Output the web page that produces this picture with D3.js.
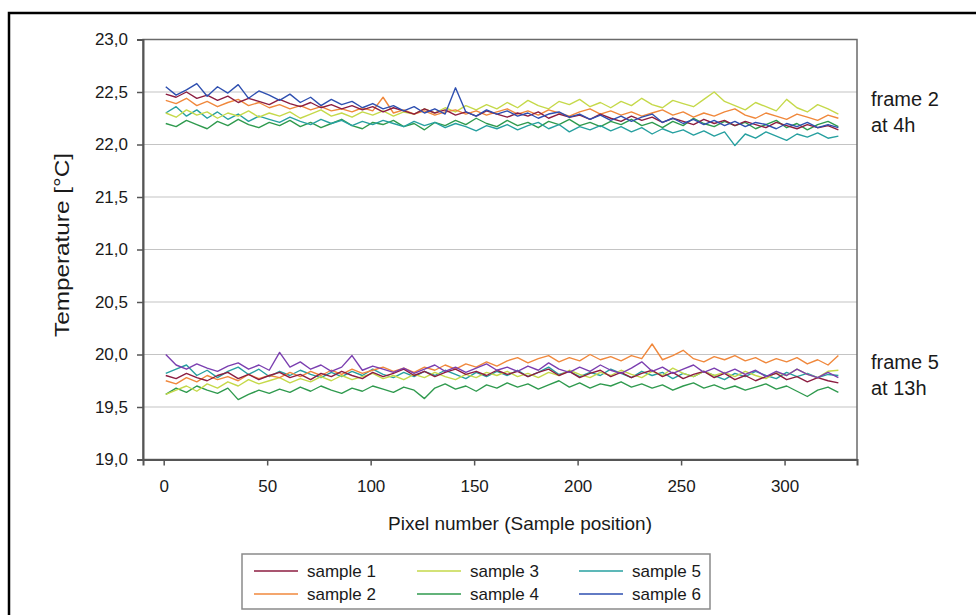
<!DOCTYPE html>
<html>
<head>
<meta charset="utf-8">
<script src="https://cdn.jsdelivr.net/npm/d3@7"></script>
<style>
  body { margin: 0; background: #fff; }
  text { font-family: "Liberation Sans", Arial, sans-serif; fill: #1a1a1a; }
</style>
</head>
<body>
<div id="chart"></div>
<script>
// pixel positions of the readings (every 5th pixel)
const pixels = d3.range(1, 327, 5);

const sampleNames = ['sample 1', 'sample 2', 'sample 3', 'sample 4', 'sample 5', 'sample 6'];
const sampleColors = ['#8c1d40', '#f0883c', '#c5d94a', '#2f9a4e', '#27a0a0', '#2e4fb0'];
const frame5Colors = ['#8c1d40', '#f0883c', '#c5d94a', '#2f9a4e', '#27a0a0', '#7b3fb0'];

const yTicks = [19.0, 19.5, 20.0, 20.5, 21.0, 21.5, 22.0, 22.5, 23.0];
const xTicks = [0, 50, 100, 150, 200, 250, 300];

// frame 2 at 4h
const f2s1 = [
  22.48, 22.45, 22.50, 22.44, 22.47, 22.42, 22.46, 22.40, 22.44, 22.41, 22.38,
  22.43, 22.39, 22.36, 22.40, 22.35, 22.38, 22.34, 22.37, 22.33, 22.36, 22.31,
  22.35, 22.32, 22.29, 22.34, 22.30, 22.33, 22.28, 22.31, 22.27, 22.32, 22.29,
  22.26, 22.30, 22.27, 22.31, 22.25, 22.29, 22.26, 22.28, 22.24, 22.29, 22.25,
  22.22, 22.27, 22.23, 22.26, 22.21, 22.25, 22.22, 22.19, 22.24, 22.20, 22.23,
  22.18, 22.22, 22.19, 22.16, 22.21, 22.18, 22.15, 22.19, 22.16, 22.18, 22.14
];
const f2s2 = [
  22.42, 22.39, 22.44, 22.37, 22.41, 22.36, 22.40, 22.43, 22.37, 22.40, 22.35,
  22.38, 22.34, 22.37, 22.33, 22.36, 22.32, 22.34, 22.31, 22.35, 22.32, 22.45,
  22.30, 22.33, 22.29, 22.32, 22.28, 22.31, 22.33, 22.29, 22.32, 22.28, 22.31,
  22.34, 22.29, 22.32, 22.28, 22.33, 22.30, 22.27, 22.31, 22.34, 22.29, 22.32,
  22.28, 22.31, 22.27, 22.30, 22.33, 22.28, 22.31, 22.26, 22.30, 22.27, 22.31,
  22.34, 22.28, 22.25, 22.30, 22.27, 22.24, 22.29, 22.26, 22.23, 22.28, 22.25
];
const f2s3 = [
  22.30, 22.26, 22.33, 22.28, 22.31, 22.25, 22.30, 22.27, 22.32, 22.26, 22.30,
  22.27, 22.31, 22.25, 22.29, 22.33, 22.27, 22.30, 22.26, 22.31, 22.28, 22.32,
  22.27, 22.31, 22.29, 22.34, 22.30, 22.35, 22.31, 22.37, 22.33, 22.38, 22.34,
  22.40, 22.35, 22.42, 22.37, 22.34, 22.41, 22.38, 22.43, 22.36, 22.40, 22.35,
  22.41, 22.37, 22.44, 22.38, 22.35, 22.42, 22.39, 22.36, 22.43, 22.50, 22.41,
  22.37, 22.33, 22.40, 22.36, 22.32, 22.43, 22.35, 22.31, 22.38, 22.34, 22.29
];
const f2s4 = [
  22.20, 22.17, 22.23, 22.19, 22.15, 22.22, 22.18, 22.24, 22.19, 22.16, 22.21,
  22.18, 22.23, 22.17, 22.21, 22.16, 22.20, 22.24, 22.18, 22.15, 22.21, 22.19,
  22.23, 22.17, 22.20, 22.14, 22.21, 22.18, 22.23, 22.19, 22.25, 22.20, 22.17,
  22.23, 22.18, 22.21, 22.16, 22.22, 22.19, 22.24, 22.18, 22.21, 22.17, 22.22,
  22.19, 22.24, 22.18, 22.21, 22.16, 22.22, 22.18, 22.25, 22.20, 22.17, 22.22,
  22.18, 22.21, 22.15, 22.19, 22.23, 22.16, 22.20, 22.14, 22.19, 22.22, 22.17
];
const f2s5 = [
  22.30, 22.36, 22.27, 22.33, 22.25, 22.31, 22.24, 22.29, 22.22, 22.27, 22.24,
  22.21, 22.26, 22.22, 22.19, 22.24, 22.20, 22.23, 22.18, 22.22, 22.19, 22.23,
  22.20, 22.17, 22.22, 22.18, 22.21, 22.16, 22.20, 22.17, 22.13, 22.18, 22.15,
  22.19, 22.14, 22.18, 22.21, 22.15, 22.19, 22.12, 22.17, 22.14, 22.18, 22.13,
  22.17, 22.12, 22.16, 22.10, 22.15, 22.11, 22.14, 22.09, 22.13, 22.08, 22.12,
  21.99, 22.10, 22.06, 22.12, 22.08, 22.04, 22.10, 22.07, 22.11, 22.06, 22.08
];
const f2s6 = [
  22.55, 22.47, 22.52, 22.58, 22.46, 22.55, 22.49, 22.57, 22.44, 22.51, 22.47,
  22.42, 22.48, 22.40, 22.45, 22.37, 22.43, 22.38, 22.41, 22.35, 22.39, 22.34,
  22.37, 22.32, 22.36, 22.30, 22.34, 22.29, 22.54, 22.31, 22.27, 22.33, 22.29,
  22.32, 22.27, 22.30, 22.25, 22.29, 22.31, 22.26, 22.29, 22.24, 22.28, 22.23,
  22.27, 22.22, 22.26, 22.29, 22.21, 22.25, 22.20, 22.24, 22.19, 22.23, 22.18,
  22.22, 22.17, 22.21, 22.19, 22.15, 22.20, 22.17, 22.21, 22.16, 22.19, 22.16
];

// frame 5 at 13h
const f5s1 = [
  19.80, 19.77, 19.82, 19.78, 19.75, 19.80, 19.83, 19.77, 19.81, 19.76, 19.80,
  19.83, 19.78, 19.81, 19.76, 19.82, 19.79, 19.84, 19.80, 19.77, 19.83, 19.79,
  19.82, 19.86, 19.80, 19.84, 19.79, 19.83, 19.86, 19.81, 19.84, 19.80, 19.85,
  19.81, 19.84, 19.79, 19.83, 19.86, 19.80, 19.84, 19.78, 19.82, 19.85, 19.79,
  19.83, 19.78, 19.82, 19.85, 19.79, 19.83, 19.77, 19.81, 19.84, 19.78, 19.82,
  19.76, 19.80, 19.75, 19.79, 19.82, 19.76, 19.79, 19.74, 19.78, 19.75, 19.73
];
const f5s2 = [
  19.75, 19.72, 19.78, 19.74, 19.80, 19.76, 19.79, 19.75, 19.81, 19.77, 19.80,
  19.78, 19.83, 19.79, 19.84, 19.80, 19.85, 19.81, 19.86, 19.82, 19.85, 19.88,
  19.84, 19.87, 19.83, 19.88, 19.85, 19.90, 19.86, 19.91, 19.88, 19.93, 19.89,
  19.94, 19.97, 19.92, 19.96, 19.99, 19.93, 19.97, 19.94, 20.00, 19.95, 19.98,
  19.94, 19.99, 19.96, 20.10, 19.95, 19.99, 20.04, 19.96, 19.93, 19.98, 19.95,
  19.99, 19.94, 19.97, 19.92, 19.96, 19.93, 19.97, 19.91, 19.95, 19.90, 19.99
];
const f5s3 = [
  19.62, 19.66, 19.70, 19.65, 19.72, 19.68, 19.74, 19.70, 19.76, 19.72, 19.75,
  19.78, 19.73, 19.77, 19.74, 19.79, 19.75, 19.80, 19.76, 19.79, 19.82, 19.77,
  19.80, 19.76, 19.81, 19.78, 19.83, 19.79, 19.76, 19.81, 19.78, 19.83, 19.80,
  19.84, 19.79, 19.82, 19.78, 19.83, 19.80, 19.85, 19.81, 19.78, 19.83, 19.80,
  19.85, 19.81, 19.78, 19.84, 19.80, 19.87, 19.82, 19.79, 19.84, 19.80, 19.83,
  19.79, 19.84, 19.80, 19.77, 19.83, 19.80, 19.86, 19.81, 19.78, 19.84, 19.85
];
const f5s4 = [
  19.62, 19.68, 19.64, 19.70, 19.66, 19.63, 19.68, 19.57, 19.62, 19.66, 19.63,
  19.67, 19.64, 19.69, 19.65, 19.70, 19.66, 19.63, 19.68, 19.65, 19.70, 19.67,
  19.64, 19.69, 19.66, 19.58, 19.68, 19.72, 19.67, 19.70, 19.65, 19.71, 19.68,
  19.73, 19.69, 19.72, 19.67, 19.71, 19.75, 19.69, 19.73, 19.68, 19.72, 19.70,
  19.74, 19.69, 19.72, 19.68, 19.71, 19.66, 19.70, 19.73, 19.68, 19.71, 19.67,
  19.70, 19.66, 19.69, 19.72, 19.67, 19.70, 19.65, 19.60, 19.66, 19.69, 19.64
];
const f5s5 = [
  19.82, 19.86, 19.90, 19.80, 19.85, 19.78, 19.84, 19.88, 19.81, 19.86, 19.79,
  19.84, 19.80, 19.85, 19.81, 19.78, 19.83, 19.79, 19.84, 19.80, 19.86, 19.81,
  19.78, 19.83, 19.79, 19.84, 19.80, 19.85, 19.81, 19.77, 19.83, 19.79, 19.84,
  19.80, 19.85, 19.79, 19.83, 19.88, 19.81, 19.84, 19.79, 19.83, 19.80, 19.86,
  19.82, 19.78, 19.84, 19.80, 19.83, 19.77, 19.82, 19.79, 19.84, 19.80, 19.76,
  19.82, 19.79, 19.84, 19.80, 19.77, 19.83, 19.79, 19.82, 19.78, 19.81, 19.80
];
const f5s6 = [
  20.00, 19.90, 19.86, 19.91, 19.87, 19.84, 19.89, 19.92, 19.86, 19.90, 19.85,
  20.02, 19.88, 19.93, 19.86, 19.90, 19.84, 19.88, 19.99, 19.85, 19.89, 19.86,
  19.83, 19.87, 19.82, 19.86, 19.90, 19.84, 19.88, 19.83, 19.87, 19.91, 19.85,
  19.88, 19.84, 19.89, 19.85, 19.92, 19.86, 19.83, 19.88, 19.84, 19.90, 19.85,
  19.82, 19.87, 19.93, 19.84, 19.88, 19.82, 19.86, 19.90, 19.83, 19.87, 19.82,
  19.86, 19.81, 19.85, 19.79, 19.84, 19.80, 19.86, 19.81, 19.78, 19.83, 19.78
];

const frame2 = [f2s1, f2s2, f2s3, f2s4, f2s5, f2s6];
const frame5 = [f5s1, f5s2, f5s3, f5s4, f5s5, f5s6];
// drawing order, back to front
const drawOrder = [3, 4, 2, 1, 0, 5];

const width = 976, height = 615;
const plot = { left: 143, right: 857, top: 39.5, bottom: 459.5 };

const svg = d3.select('#chart')
    .append('svg')
    .attr('width', width)
    .attr('height', height);

// outer frame of the figure (runs off the right and bottom edge)
svg.append('rect')
    .attr('x', 9).attr('y', 13)
    .attr('width', 1000).attr('height', 700)
    .attr('fill', 'none')
    .attr('stroke', '#000')
    .attr('stroke-width', 2.5);

const x = d3.scaleLinear().domain([-10, 335]).range([plot.left, plot.right]);
const y = d3.scaleLinear().domain([19, 23]).range([plot.bottom, plot.top]);

const commaFmt = d => d3.format('.1f')(d).replace('.', ',');

// grid lines
svg.append('g')
    .selectAll('line')
    .data(yTicks.slice(1, -1))
    .join('line')
    .attr('x1', plot.left).attr('x2', plot.right)
    .attr('y1', d => y(d)).attr('y2', d => y(d))
    .attr('stroke', '#c4c4c4')
    .attr('stroke-width', 1.2);

// plot box
svg.append('rect')
    .attr('x', plot.left).attr('y', plot.top)
    .attr('width', plot.right - plot.left)
    .attr('height', plot.bottom - plot.top)
    .attr('fill', 'none')
    .attr('stroke', '#6a6a6a')
    .attr('stroke-width', 1.5);

// lines
const line = d3.line()
    .x((d, i) => x(pixels[i]))
    .y(d => y(d));

const series = [];
drawOrder.forEach(k => {
    series.push({ values: frame2[k], color: sampleColors[k] });
    series.push({ values: frame5[k], color: frame5Colors[k] });
});

svg.append('g')
    .selectAll('path')
    .data(series)
    .join('path')
    .attr('d', d => line(d.values))
    .attr('fill', 'none')
    .attr('stroke', d => d.color)
    .attr('stroke-width', 1.4)
    .attr('stroke-linejoin', 'round');

// axes
const yAxis = svg.append('g')
    .attr('transform', `translate(${plot.left},0)`)
    .call(d3.axisLeft(y).tickValues(yTicks).tickFormat(commaFmt).tickSize(6).tickPadding(9));

const xAxis = svg.append('g')
    .attr('transform', `translate(0,${plot.bottom})`)
    .call(d3.axisBottom(x).tickValues(xTicks).tickSize(6).tickPadding(14));

[yAxis, xAxis].forEach(ax => {
    ax.select('.domain').attr('stroke', '#555').attr('stroke-width', 2);
    ax.selectAll('.tick line').attr('stroke', '#555').attr('stroke-width', 1.5);
    ax.selectAll('.tick text')
        .attr('fill', '#1a1a1a')
        .style('font-size', '17px')
        .style('font-family', '"Liberation Sans", Arial, sans-serif');
});

// axis titles
svg.append('text')
    .attr('transform', 'translate(69,245) rotate(-90)')
    .attr('text-anchor', 'middle')
    .attr('textLength', 184)
    .attr('lengthAdjust', 'spacingAndGlyphs')
    .style('font-size', '20px')
    .text('Temperature [°C]');

svg.append('text')
    .attr('x', 520).attr('y', 530)
    .attr('text-anchor', 'middle')
    .style('font-size', '19px')
    .text('Pixel number (Sample position)');

// frame annotations
const notes = [
    { lines: ['frame 2', 'at 4h'], base: 106 },
    { lines: ['frame 5', 'at 13h'], base: 369 }
];
notes.forEach(n => {
    n.lines.forEach((t, i) => {
        svg.append('text')
            .attr('x', 871).attr('y', n.base + i * 26)
            .style('font-size', '20px')
            .text(t);
    });
});

// legend
const legend = svg.append('g');
legend.append('rect')
    .attr('x', 242).attr('y', 554)
    .attr('width', 468).attr('height', 55)
    .attr('fill', '#fff')
    .attr('stroke', '#8a8a8a')
    .attr('stroke-width', 1.5);

const colX = [254, 417, 579];
const rowY = [571, 594];
sampleNames.forEach((name, i) => {
    const cx = colX[Math.floor(i / 2)];
    const cy = rowY[i % 2];
    legend.append('line')
        .attr('x1', cx).attr('x2', cx + 44)
        .attr('y1', cy).attr('y2', cy)
        .attr('stroke', sampleColors[i])
        .attr('stroke-width', 1.5);
    legend.append('text')
        .attr('x', cx + 53).attr('y', cy + 6)
        .style('font-size', '17px')
        .text(name);
});
</script>
</body>
</html>
